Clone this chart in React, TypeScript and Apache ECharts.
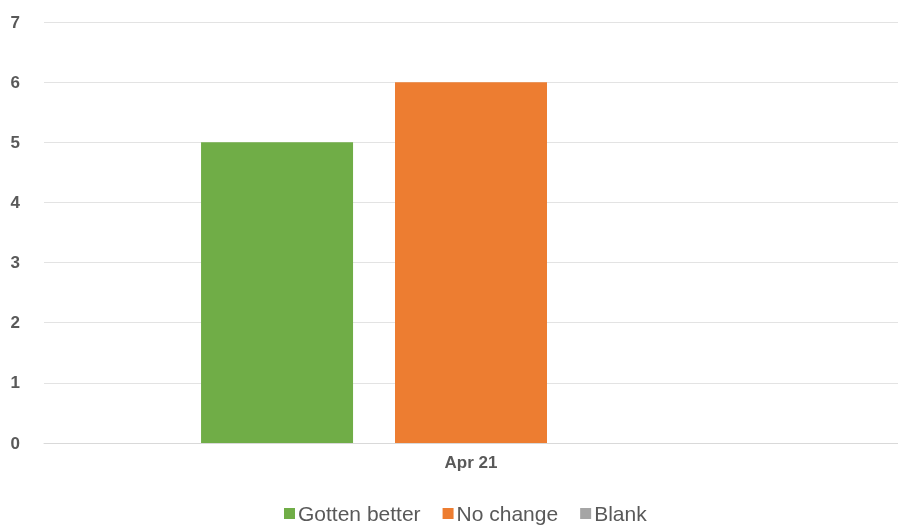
import React, { useEffect, useRef } from "react";
import * as echarts from "echarts";

const categories = ["Apr 21"];
const seriesNames = ["Gotten better", "No change", "Blank"];
const gottenBetter = [5];
const noChange = [6];
const blank = [0];
const colors = ["#70AD47", "#ED7D31", "#A5A5A5"];

export default function App() {
  const ref = useRef<HTMLDivElement>(null);
  useEffect(() => {
    const chart = echarts.init(ref.current!, undefined, { renderer: "svg" });
    const values = [gottenBetter, noChange, blank];
    chart.setOption({
      animation: false,
      textStyle: { fontFamily: "Liberation Sans, Arial, sans-serif" },
      grid: { left: 44, right: 0, top: 22, bottom: 84, containLabel: false },
      legend: {
        bottom: 3,
        left: 284,
        itemWidth: 11,
        itemHeight: 11,
        itemGap: 22,
        icon: "rect",
        padding: 0,
        textStyle: { fontSize: 21, color: "#595959", padding: [0, 0, 0, -2] },
        data: seriesNames,
      },
      xAxis: {
        type: "category",
        data: categories,
        axisLine: { show: true, lineStyle: { color: "#D9D9D9", width: 1 } },
        axisTick: { show: false },
        axisLabel: { fontSize: 17, fontWeight: "bold", color: "#595959", margin: 11 },
      },
      yAxis: {
        type: "value",
        min: 0,
        max: 7,
        interval: 1,
        axisLine: { show: false },
        axisTick: { show: false },
        axisLabel: { fontSize: 17, fontWeight: "bold", color: "#595959", margin: 24 },
        splitLine: { lineStyle: { color: "#E3E3E3", width: 1 } },
      },
      series: seriesNames.map((name, i) => ({
        name,
        type: "bar",
        data: values[i],
        barWidth: 152,
        barGap: "27.6%",
        itemStyle: { color: colors[i] },
      })),
    });
    return () => chart.dispose();
  }, []);
  return (
    <div
      ref={ref}
      style={{ position: "fixed", left: 0, top: 0, width: 898, height: 527 }}
    />
  );
}
